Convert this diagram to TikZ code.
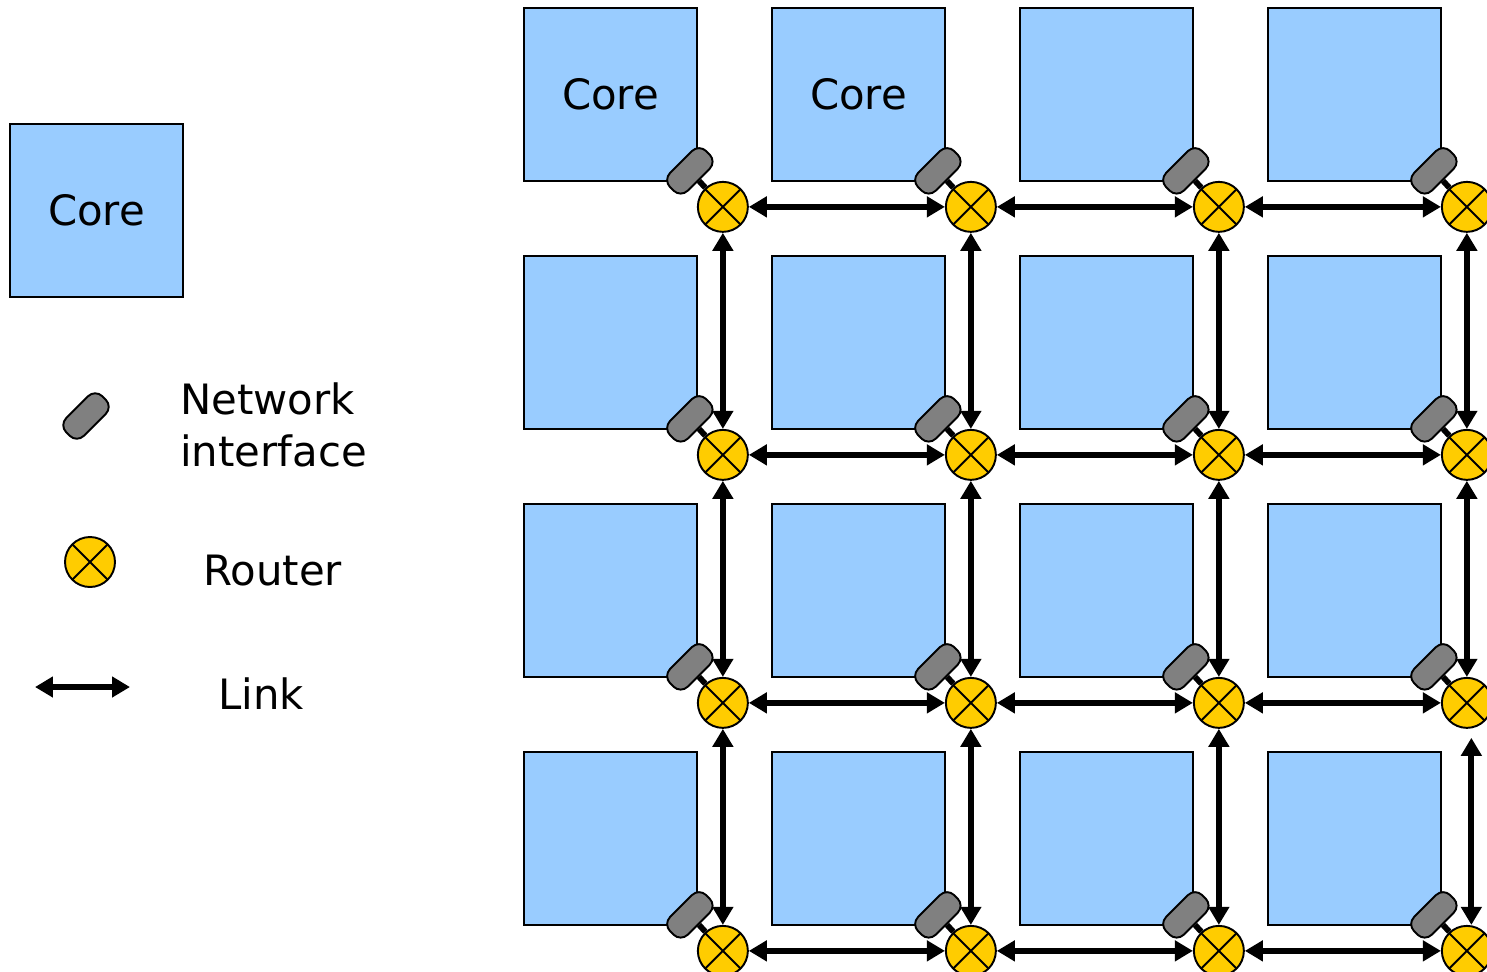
\documentclass[tikz,border=0pt]{standalone}
\usepackage{fontspec}
\setmainfont{DejaVu Sans}
\usetikzlibrary{arrows.meta,calc}
\definecolor{corefill}{HTML}{99CCFF}
\definecolor{routerfill}{HTML}{FFCC00}
\definecolor{nifill}{HTML}{808080}
\tikzset{
	core/.style={draw=black, line width=1pt, fill=corefill, minimum size=3.46cm, inner sep=0pt, font=\fontsize{23.8}{29.5}\selectfont},
	router/.style={circle, draw=black, line width=1.1pt, fill=routerfill, minimum size=1cm, inner sep=0pt,
		path picture={\draw[line width=1.1pt] (path picture bounding box.north west) -- (path picture bounding box.south east)
			(path picture bounding box.north east) -- (path picture bounding box.south west);}},
	netif/.style={draw=black, line width=1.1pt, fill=nifill, rounded corners=0.2cm, minimum width=1.02cm, minimum height=0.5cm, inner sep=0pt, rotate=45},
	link/.style={line width=3.3pt, {Triangle[length=0.36cm,width=0.4cm]}-{Triangle[length=0.36cm,width=0.4cm]}},
	stub/.style={line width=3.3pt},
	legendtext/.style={inner sep=0pt, anchor=west, align=left, font=\fontsize{23.8}{29.5}\selectfont},
}

\begin{document}
\begin{tikzpicture}[x=0.02cm, y=-0.02cm]
			%%%%% START %%%%%
			\useasboundingbox (0, 0) rectangle (1487, 971);
			
			% cores, network interfaces and routers of the 4x4 mesh
			\foreach \i in {1,...,4} {
				\foreach \j in {1,...,4} {
					\node[core] (c-\i-\j) at ({610.5+248*(\j-1)}, {94.5+248*(\i-1)}) {};
					\node[router] (r-\i-\j) at ($(c-\i-\j.south east)+(25, 25)$) {};
					\node[netif] (n-\i-\j) at ($(r-\i-\j)+(-33, -36)$) {};
					\draw[stub] (n-\i-\j) -- (r-\i-\j);
				}
			}
			\node[core, draw=none, fill=none] (t-1-1) at (c-1-1) {Core};
			\node[core, draw=none, fill=none] (t-1-2) at (c-1-2) {Core};
			
			% horizontal links
			\foreach \i in {1,...,4} {
				\foreach \j [evaluate=\j as \k using int(\j+1)] in {1,...,3} {
					\draw[link] (r-\i-\j) -- (r-\i-\k);
				}
			}
			
			% vertical links
			\foreach \j in {1,...,4} {
				\foreach \i [evaluate=\i as \k using int(\i+1)] in {1,...,3} {
					\ifnum\i\j=34\else
						\draw[link] (r-\i-\j) -- (r-\k-\j);
					\fi
				}
			}
			\draw[link] ([xshift=0.09cm, yshift=-0.18cm]r-3-4.south) -- ([xshift=0.09cm]r-4-4.north);
			
			% legend
			\node[core] (lcore) at (96.5, 210.5) {Core};
			
			\node[netif] (lni) at (86, 416) {};
			\node[legendtext] (lnitext) at (180, 425) {Network\\interface};
			
			\node[router] (lrouter) at (90, 562) {};
			\node[legendtext] (lroutertext) at (203, 571) {Router};
			
			\coordinate (llinka) at (35, 687);
			\coordinate (llinkb) at (130, 687);
			\draw[link] (llinka) -- (llinkb);
			\node[legendtext] (llinktext) at (218, 694) {Link};
			
			%%%%% END %%%%%
\end{tikzpicture}
\end{document}
